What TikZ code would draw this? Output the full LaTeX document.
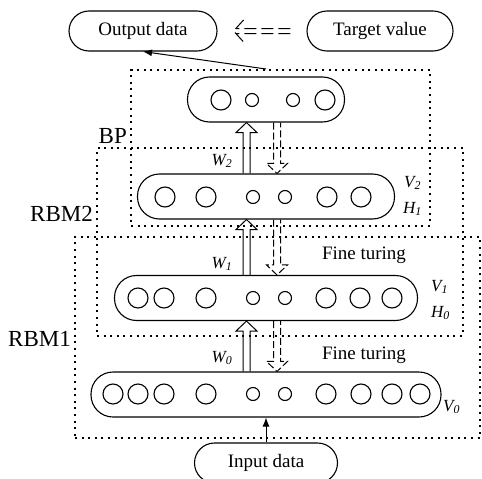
\documentclass[tikz,border=0pt]{standalone}
\usepackage{fontspec}
\setmainfont{Liberation Serif}
\usetikzlibrary{arrows.meta, positioning, calc}
\tikzset{%
	hlayer/.style={draw, rectangle, line width=1.1pt, rounded corners=22pt,%
		minimum height=45pt},
	unit/.style={draw, circle, line width=1.1pt, inner sep=0pt, minimum size=20pt},
	sunit/.style={unit, minimum size=13pt},
	io/.style={draw, rectangle, line width=1.1pt, rounded corners=20pt,%
		minimum height=40pt, font=\fontsize{19}{22}\selectfont},
	group/.style={draw, line width=2pt, dash pattern=on 2pt off 4.6pt, inner sep=0pt},
	grouplabel/.style={font=\fontsize{23}{26}\selectfont, inner sep=0pt, anchor=base east},
	wlabel/.style={font=\fontsize{17}{20}\selectfont\itshape, inner sep=1pt},
	note/.style={font=\fontsize{19}{22}\selectfont},
	% hollow block arrow, vertical
	up/.style={line width=1pt, to path={let \p1=(\tikztostart), \p2=(\tikztotarget),%
		\n1={sign(\y2-\y1)} in (\x1-3.5pt,\y1) -- (\x1-3.5pt,\y2-\n1*10pt)%
		-- (\x1-10.5pt,\y2-\n1*10pt) -- (\x1,\y2) -- (\x1+10.5pt,\y2-\n1*10pt)%
		-- (\x1+3.5pt,\y2-\n1*10pt) -- (\x1+3.5pt,\y1)}},
	down/.style={up, dash pattern=on 7pt off 3pt},
	% dashed double arrow, pointing left
	fb/.style={line width=1pt, to path={let \p1=(\tikztostart), \p2=(\tikztotarget) in%
		(\x1,\y1-2.5pt) -- (\x2+2pt,\y1-2.5pt) (\x1,\y1+2.5pt) -- (\x2+2pt,\y1+2.5pt)%
		[solid] (\x2+10pt,\y1+11pt) -- (\x2,\y1) -- (\x2+10pt,\y1-11pt)},%
		dash pattern=on 12pt off 5pt},
	feed/.style={line width=1pt, -{Latex[length=9pt, width=7pt]}}
}
\begin{document}
\begin{tikzpicture}[x=1pt, y=-1pt]
	\useasboundingbox (0,0) rectangle (482,479);

	% dotted frames
	\node[group, minimum width=299pt, minimum height=156pt] (bp) at (280.5,148) {};
	\node[group, minimum width=366pt, minimum height=188pt] (rbm2) at (280,242) {};
	\node[group, minimum width=405pt, minimum height=201pt] (rbm1) at (277.5,337.5) {};
	\node[grouplabel] (lbp) at (127,143) {BP};
	\node[grouplabel] (lrbm2) at (93,221) {RBM2};
	\node[grouplabel] (lrbm1) at (71,346) {RBM1};

	% layers
	\node[hlayer, minimum width=157pt] (l3) at (266,99.5) {};
	\node[hlayer, minimum width=257pt] (l2) at (266,196.5) {};
	\node[hlayer, minimum width=303pt] (l1) at (266,298) {};
	\node[hlayer, minimum width=350pt] (l0) at (266,394.5) {};

	\foreach \x/\s [count=\i] in {221/unit, 252/sunit, 293/sunit, 325/unit}
		\node[\s] (u3\i) at (\x,100) {};
	\foreach \x/\s [count=\i] in {165/unit, 206/unit, 253/sunit, 285/sunit, 327/unit, 361/unit}
		\node[\s] (u2\i) at (\x,197) {};
	\foreach \x/\s [count=\i] in {138/unit, 164/unit, 206/unit, 253/sunit, 285/sunit,%
		326/unit, 360/unit, 392/unit}
		\node[\s] (u1\i) at (\x,298) {};
	\foreach \x/\s [count=\i] in {113/unit, 138/unit, 164/unit, 206/unit, 253/sunit,%
		285/sunit, 326/unit, 361/unit, 392/unit, 420/unit}
		\node[\s] (u0\i) at (\x,394) {};

	\node[wlabel, anchor=west] (v2) at (403,183) {V\textsubscript{2}};
	\node[wlabel, anchor=west] (h1) at (402,209) {H\textsubscript{1}};
	\node[wlabel, anchor=west] (v1) at (430,287) {V\textsubscript{1}};
	\node[wlabel, anchor=west] (h0) at (430,313) {H\textsubscript{0}};
	\node[wlabel, anchor=west] (v0) at (442,407) {V\textsubscript{0}};
	\node[wlabel] (w2) at (222,161) {W\textsubscript{2}};
	\node[wlabel] (w1) at (222,264) {W\textsubscript{1}};
	\node[wlabel] (w0) at (222,358) {W\textsubscript{0}};
	\node[note] (ft1) at (364,255) {Fine turing};
	\node[note] (ft0) at (364,355) {Fine turing};

	% input / output
	\node[io, minimum width=148pt] (out) at (143,31) {Output data};
	\node[io, minimum width=146pt] (tgt) at (380,31) {Target value};
	\node[io, minimum width=143pt] (in) at (266,463) {Input data};

	\draw[feed] (in) -- (l0);
	\draw[feed] (l3.north |- bp.north) -- (out.south);
	\draw[fb] ([xshift=-16pt]tgt.west) to ([xshift=16pt]out.east);

	\foreach \a/\b in {l0/l1, l1/l2, l2/l3} {
		\draw[up] ([xshift=-19.5pt]\a.north) to ([xshift=-19.5pt]\b.south);
		\draw[down] ([xshift=11pt]\b.south) to ([xshift=11pt]\a.north);
	}
\end{tikzpicture}
\end{document}
